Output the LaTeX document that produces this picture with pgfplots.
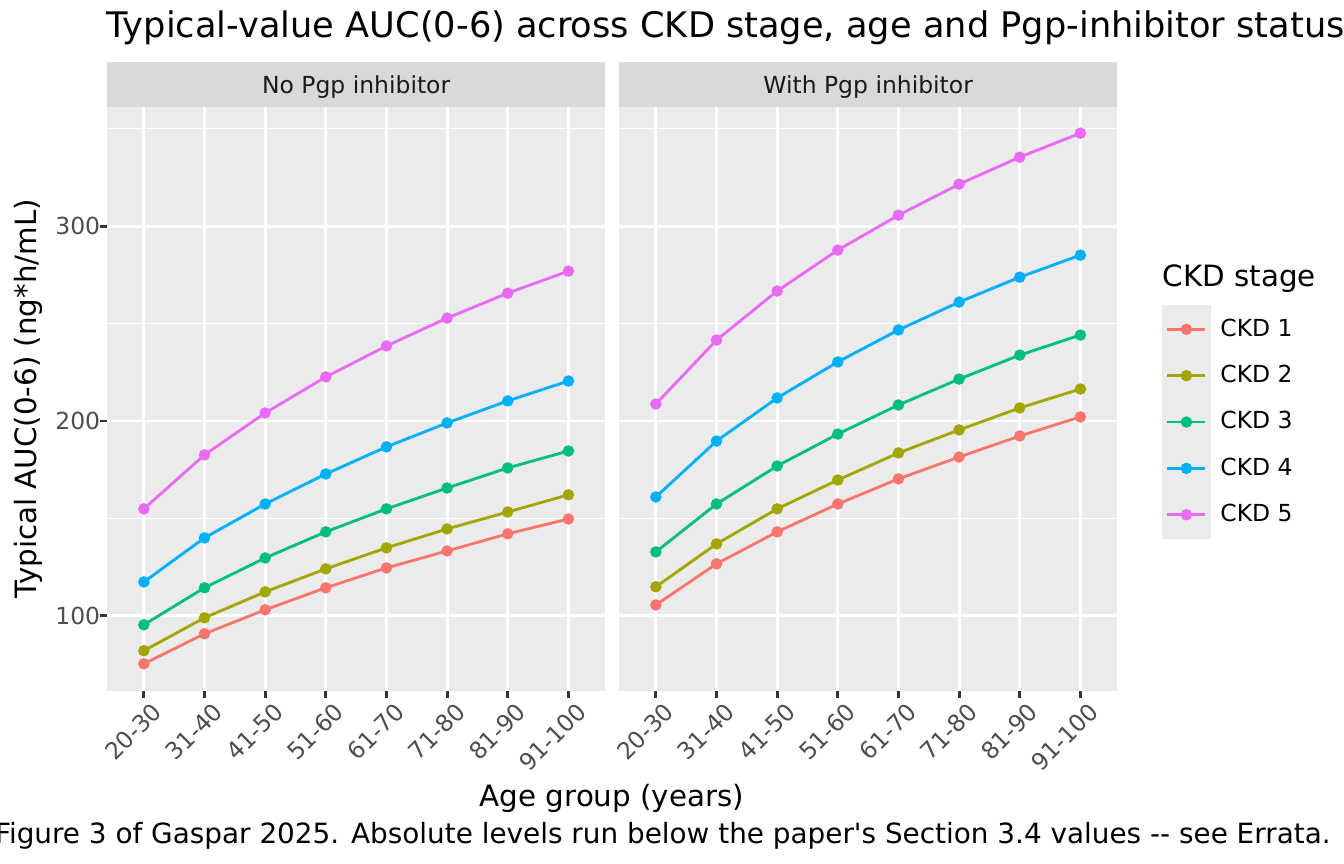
\documentclass[border=0pt]{standalone}
\usepackage{fontspec}
\setmainfont{DejaVu Sans}[Ligatures=TeXOff]
\usepackage{pgfplots}
\pgfplotsset{compat=1.18}
\definecolor{bg}{HTML}{EBEBEB}
\definecolor{stripc}{HTML}{D9D9D9}
\definecolor{g30}{HTML}{4D4D4D}
\definecolor{g20}{HTML}{333333}
\definecolor{g10}{HTML}{1A1A1A}
\definecolor{c1}{HTML}{F8766D}
\definecolor{c2}{HTML}{A3A500}
\definecolor{c3}{HTML}{00BF7D}
\definecolor{c4}{HTML}{00B0F6}
\definecolor{c5}{HTML}{E76BF3}
\newcommand{\ticksize}{\fontsize{8.8}{10}\selectfont}
\newcommand{\capsize}{\fontsize{10.45}{12}\selectfont}
\newcommand{\labsize}{\fontsize{11}{13}\selectfont}
\newcommand{\titsize}{\fontsize{13.2}{15}\selectfont}
\pgfplotsset{
 panel/.style={
  scale only axis, width=186.5pt, height=219pt,
  xmin=-0.6, xmax=7.6, ymin=61.6, ymax=361.3,
  xtick={0,...,7}, xticklabels={20-30,31-40,41-50,51-60,61-70,71-80,81-90,91-100},
  ytick={100,200,300}, minor ytick={150,250,350},
  grid=both, major grid style={white, line width=1.07pt}, minor grid style={white,line width=0.53pt},
  axis background/.style={fill=bg},
  axis line style={draw=none},
  tick align=outside, major tick length=2.75pt, minor tick length=0pt,
  tick style={g20, line width=1.07pt},
  xtick pos=bottom, ytick pos=left,
  ticklabel style={font=\ticksize, text=g30},
  x tick label style={rotate=45, anchor=north east, yshift=-2.8pt, xshift=1.1pt},
  /pgf/number format/assume math mode=true,
  every axis plot/.append style={line width=1.07pt, mark=*, mark size=1.9pt, mark options={solid, line width=0.5pt}},
 }
}
\begin{document}
\begin{tikzpicture}[every node/.style={inner sep=0pt, outer sep=0pt}]
\path[use as bounding box] (0pt,0pt) rectangle (504pt,324pt);
% strips
\fill[stripc] (40.3pt,284pt) rectangle (226.8pt,300.75pt);
\fill[stripc] (232.3pt,284pt) rectangle (418.8pt,300.75pt);
\node[anchor=base, text=g10, font=\ticksize] at (133.55pt,289pt) {No Pgp inhibitor};
\node[anchor=base, text=g10, font=\ticksize] at (325.55pt,289pt) {With Pgp inhibitor};
\begin{axis}[panel, at={(40.3pt,65pt)}, anchor=south west]
\addplot[c1] coordinates {(0,75.4)(1,90.8)(2,103.1)(3,114.4)(4,124.6)(5,133.3)(6,142.1)(7,149.7)};
\addplot[c2] coordinates {(0,82.1)(1,99.0)(2,112.3)(3,124.1)(4,134.9)(5,144.6)(6,153.3)(7,162.1)};
\addplot[c3] coordinates {(0,95.4)(1,114.4)(2,129.7)(3,143.1)(4,154.9)(5,165.6)(6,175.9)(7,184.6)};
\addplot[c4] coordinates {(0,117.4)(1,140.0)(2,157.4)(3,172.8)(4,186.7)(5,199.0)(6,210.3)(7,220.5)};
\addplot[c5] coordinates {(0,154.9)(1,182.6)(2,204.1)(3,222.6)(4,238.5)(5,252.8)(6,265.6)(7,276.9)};
\end{axis}
\begin{axis}[panel, at={(232.3pt,65pt)}, anchor=south west,
  yticklabels={}, major y tick style={draw=none},
  legend cell align=left,
  legend style={at={(axis description cs:1.0909,0.6605)}, anchor=north west, draw=none, fill=none,
    inner sep=0pt, outer sep=0pt, row sep=-0.94pt, column sep=3.6pt, font=\ticksize,
    nodes={inner sep=0pt}},
  legend image code/.code={
    \fill[bg] (0pt,-8.625pt) rectangle (17.25pt,8.625pt);
    \draw[mark repeat=2,mark phase=2] plot coordinates {(1.5pt,0pt)(8.625pt,0pt)(15.75pt,0pt)};
  }]
\addplot[c1] coordinates {(0,105.6)(1,126.7)(2,143.1)(3,157.4)(4,170.3)(5,181.5)(6,192.3)(7,202.1)};
\addplot[c2] coordinates {(0,114.9)(1,136.9)(2,154.9)(3,169.7)(4,183.6)(5,195.4)(6,206.7)(7,216.4)};
\addplot[c3] coordinates {(0,132.8)(1,157.4)(2,176.9)(3,193.3)(4,208.2)(5,221.5)(6,233.8)(7,244.1)};
\addplot[c4] coordinates {(0,161.0)(1,189.7)(2,211.8)(3,230.3)(4,246.7)(5,261.0)(6,273.8)(7,285.1)};
\addplot[c5] coordinates {(0,208.7)(1,241.5)(2,266.7)(3,287.7)(4,305.6)(5,321.5)(6,335.4)(7,347.7)};
\legend{CKD 1,CKD 2,CKD 3,CKD 4,CKD 5}
\end{axis}
% titles
\node[anchor=base west, font=\titsize] at (40.1pt,310.1pt) {Typical-value AUC(0-6) across CKD stage, age and Pgp-inhibitor status};
\node[anchor=base, font=\labsize] at (229.5pt,21.5pt) {Age group (years)};
\node[anchor=base, rotate=90, font=\labsize] at (13.8pt,174.5pt) {Typical AUC(0-6) (ng*h/mL)};
\node[anchor=base east, font=\capsize] at (499pt,7.76pt) {Figure 3 of Gaspar 2025. Absolute levels run below the paper's Section 3.4 values -- see Errata.};
\node[anchor=base west, font=\labsize] at (436.1pt,216.4pt) {CKD stage};
\end{tikzpicture}
\end{document}
